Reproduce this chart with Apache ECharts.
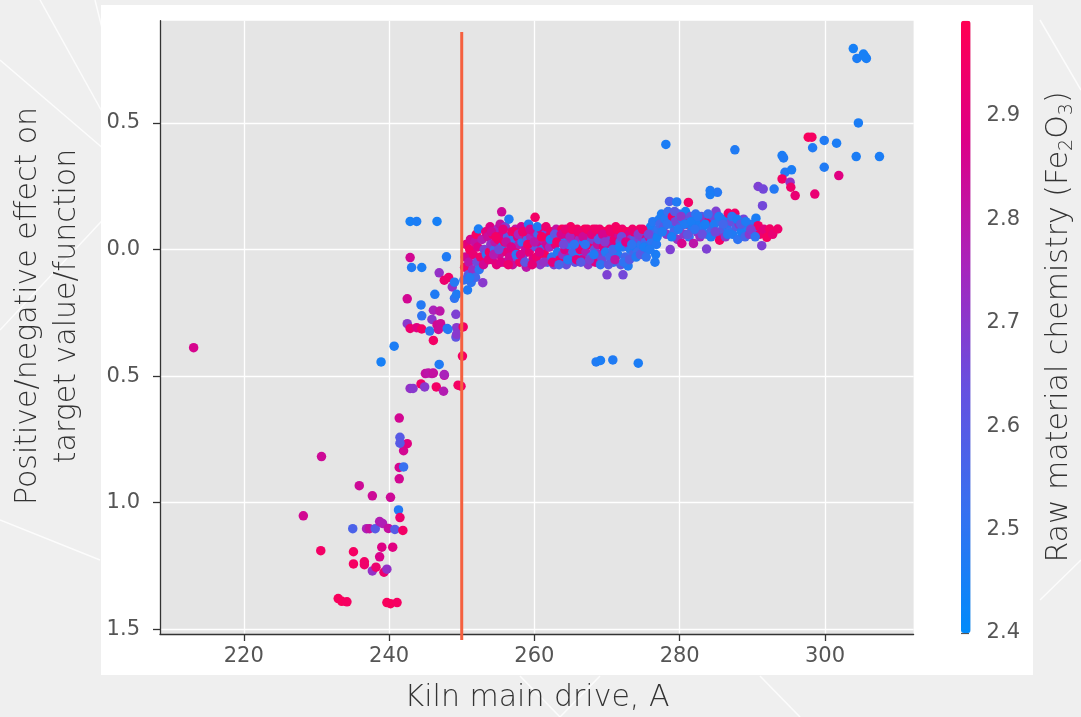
<!DOCTYPE html>
<html>
<head>
<meta charset="utf-8">
<title>Kiln main drive dependence</title>
<script src="https://cdn.jsdelivr.net/npm/echarts@6.0.0/dist/echarts.min.js"></script>
<style>
html,body{margin:0;padding:0;background:#f0f0f0;}
#main{width:1081px;height:717px;}
</style>
</head>
<body>
<div id="main"></div>
<script>
// axis ranges and ticks
var xMin = 208.47, xMax = 312.2;
var yMin = -1.519, yMax = 0.904;
var xTicks = [220, 240, 260, 280, 300];
var yTicks = [-1.5, -1.0, -0.5, 0.0, 0.5];
var feMin = 2.4, feMax = 2.992;
var feTicks = [2.4, 2.5, 2.6, 2.7, 2.8, 2.9];
// vertical threshold line (drive current 250 A)
var thresholdLine = [[250, 0.859], [250, -1.543]];

// [kiln drive A, effect, Fe2O3]
var farLeft = [[213.1,-0.388,2.86]];

var lowCluster = [
	[230.7,-0.818,2.84],[228.2,-1.052,2.85],[230.6,-1.19,2.95],[233.0,-1.379,2.97],[233.5,-1.39,2.97],
	[234.2,-1.392,2.96],[235.1,-1.194,2.96],[235.1,-1.242,2.96],[236.6,-1.234,2.95],[236.6,-1.245,2.94],
	[235.0,-1.103,2.57],[235.9,-0.933,2.84],[236.9,-1.103,2.76],[237.3,-1.103,2.82],[237.7,-0.973,2.84],
	[237.7,-1.27,2.72],[238.2,-1.255,2.93],[238.7,-1.214,2.87],[238.1,-1.103,2.6],[238.7,-1.075,2.78],
	[239.1,-1.082,2.77],[239.0,-1.176,2.88],[239.3,-1.275,2.93],[239.7,-1.263,2.72],[239.9,-1.102,2.82],
	[240.2,-0.979,2.84],[240.5,-1.176,2.89],[240.8,-1.106,2.6],[239.7,-1.395,2.97],[240.2,-1.399,2.97],
	[241.1,-1.395,2.96],[241.3,-1.029,2.48],[241.5,-1.059,2.93],[241.9,-1.11,2.95],[241.4,-0.906,2.85],
	[241.4,-0.861,2.86],[242.0,-0.859,2.52],[242.0,-0.795,2.85],[242.5,-0.767,2.89],[241.5,-0.742,2.6],
	[241.5,-0.765,2.6],[241.4,-0.666,2.85]
];

var rampPoints = [
	[242.9,-0.549,2.72],[243.3,-0.549,2.7],[244.4,-0.531,2.95],[244.9,-0.543,2.7],[246.5,-0.543,2.95],
	[247.5,-0.56,2.78],[249.5,-0.536,2.95],[245.0,-0.49,2.82],[245.9,-0.49,2.8],[247.6,-0.497,2.82],
	[238.9,-0.444,2.45],[246.9,-0.454,2.47],[242.9,0.111,2.45],[243.8,0.111,2.46],[246.6,0.111,2.45],
	[242.9,-0.032,2.85],[243.1,-0.071,2.47],[244.5,-0.071,2.46],[247.9,-0.029,2.47],[246.9,-0.092,2.72],
	[247.6,-0.121,2.93],[248.2,-0.111,2.94],[248.7,-0.148,2.72],[249.0,-0.129,2.48],[242.5,-0.195,2.85],
	[246.3,-0.177,2.47],[244.4,-0.219,2.48],[249.0,-0.193,2.5],[246.1,-0.24,2.76],[247.0,-0.243,2.8],
	[244.5,-0.262,2.5],[242.5,-0.293,2.7],[242.9,-0.312,2.93],[243.8,-0.309,2.89],[244.5,-0.314,2.95],
	[245.9,-0.276,2.7],[246.6,-0.298,2.85],[247.1,-0.293,2.84],[245.6,-0.322,2.5],[246.8,-0.316,2.84],
	[248.0,-0.312,2.5],[249.2,-0.256,2.68],[249.3,-0.309,2.7],[249.2,-0.346,2.62],[250.2,-0.306,2.95],
	[246.1,-0.359,2.95],[240.7,-0.382,2.46],[250.1,-0.421,2.96],[245.4,-0.488,2.8],[246.1,-0.488,2.82],
	[247.6,-0.494,2.76],[249.9,-0.54,2.96],[248.1,-0.316,2.48],[249.3,-0.335,2.7],[249.3,-0.177,2.47]
];

var bandA = [
	[250.3,-0.12,2.5],[250.4,-0.07,2.93],[250.5,-0.03,2.85],[250.6,0.02,2.9],[250.8,-0.16,2.47],
	[250.9,-0.1,2.6],[251.0,-0.05,2.8],[251.1,0.0,2.95],[251.2,0.04,2.86],[251.3,-0.13,2.5],
	[251.5,-0.08,2.73],[251.6,-0.02,2.92],[251.8,0.03,2.82],[251.9,-0.11,2.55],[252.0,0.06,2.96],
	[252.1,-0.05,2.65],[252.2,0.01,2.88],[252.4,-0.08,2.5],[252.3,0.081,2.46],[252.6,-0.03,2.94],
	[252.8,0.04,2.78],[253.0,-0.06,2.85],[253.1,0.0,2.68],[253.3,0.07,2.9],[253.4,-0.02,2.5],
	[252.9,-0.131,2.7],[251.1,-0.111,2.48]
];

var bandB = [
	[253.6,0.05,2.83],[253.8,-0.01,2.95],[253.9,0.09,2.88],[254.0,0.02,2.72],[254.2,-0.04,2.86],
	[254.3,0.06,2.97],[254.5,0.0,2.55],[254.6,0.03,2.8],[254.8,-0.06,2.9],[254.9,0.08,2.76],
	[255.0,0.04,2.93],[255.2,-0.02,2.84],[255.3,0.1,2.82],[255.5,0.01,2.48],[255.6,0.06,2.87],
	[255.8,-0.05,2.79],[255.9,0.03,2.96],[256.0,0.09,2.7],[256.2,-0.01,2.9],[256.3,0.05,2.6],
	[256.5,0.12,2.47],[256.6,-0.03,2.85],[256.7,0.02,2.74],[256.9,0.07,2.92],[257.0,-0.06,2.83],
	[257.1,0.04,2.52],[257.3,0.0,2.95],[257.4,0.08,2.81],[257.6,-0.03,2.66],[257.7,0.05,2.89],
	[257.9,0.02,2.78],[258.0,-0.05,2.94],[258.2,0.09,2.86],[258.3,0.03,2.5],[258.5,-0.02,2.72],
	[258.6,0.06,2.97],[258.8,0.0,2.84],[258.9,-0.07,2.8],[259.0,0.04,2.58],[259.2,0.1,2.48],
	[259.3,-0.01,2.91],[259.5,0.05,2.75],[259.6,0.02,2.68],[259.8,-0.04,2.88],[259.9,0.07,2.82],
	[260.1,0.127,2.95],[260.2,0.01,2.62],[260.3,-0.03,2.93],[260.5,0.06,2.55],[260.6,0.03,2.86],
	[260.8,-0.06,2.7],[260.9,0.08,2.9],[261.1,0.0,2.5],[261.2,0.04,2.79],[261.4,-0.02,2.96],
	[261.5,0.06,2.64],[261.7,0.02,2.84],[261.8,-0.05,2.58],[262.0,0.05,2.92],[255.5,0.149,2.84],
	[253.7,-0.04,2.9],[254.1,0.07,2.84],[254.4,-0.02,2.78],[254.7,0.05,2.95],[255.1,0.0,2.66],
	[255.4,-0.05,2.88],[255.7,0.08,2.9],[256.1,0.03,2.82],[256.4,-0.06,2.93],[256.8,0.01,2.87],
	[257.2,0.07,2.95],[257.5,-0.02,2.5],[257.8,0.06,2.76],[258.1,-0.02,2.86],[258.4,0.07,2.93],
	[258.7,-0.05,2.62],[259.1,0.02,2.95],[259.4,0.08,2.85],[259.7,-0.06,2.91],[260.0,0.03,2.8],
	[260.4,0.09,2.47],[260.7,-0.01,2.88],[261.0,0.05,2.96],[261.3,-0.05,2.72],[261.6,0.09,2.93],
	[261.9,0.01,2.85]
];

var bandC = [
	[262.1,0.01,2.75],[262.3,0.07,2.95],[262.4,-0.03,2.5],[262.6,0.04,2.86],[262.7,-0.06,2.68],
	[262.9,0.02,2.9],[263.0,0.08,2.82],[263.2,-0.01,2.47],[263.3,0.05,2.77],[263.5,-0.04,2.93],
	[263.6,0.03,2.6],[263.8,0.08,2.97],[263.9,-0.02,2.72],[264.1,0.05,2.52],[264.2,0.0,2.88],
	[264.4,-0.06,2.64],[264.5,0.06,2.94],[264.7,0.02,2.48],[264.8,-0.03,2.8],[265.0,0.09,2.96],
	[265.1,0.04,2.7],[265.3,-0.01,2.55],[265.4,0.06,2.9],[265.6,-0.05,2.62],[265.7,0.02,2.84],
	[265.9,0.08,2.95],[266.0,-0.02,2.5],[266.2,0.04,2.74],[266.3,0.0,2.92],[266.5,0.07,2.66],
	[266.6,-0.04,2.86],[266.8,0.03,2.46],[266.9,0.08,2.97],[267.1,-0.01,2.78],[267.2,0.05,2.58],
	[267.4,-0.06,2.7],[267.5,0.02,2.93],[267.7,0.07,2.85],[267.8,-0.03,2.52],[268.0,0.04,2.68],
	[268.1,0.08,2.96],[268.3,0.0,2.62],[268.4,-0.05,2.88],[268.6,0.06,2.49],[268.7,0.02,2.82],
	[268.9,-0.02,2.72],[269.0,0.08,2.94],[269.2,0.04,2.56],[269.3,-0.04,2.66],[269.5,0.01,2.9],
	[269.6,0.07,2.95],[269.8,-0.01,2.48],[270.0,-0.1,2.68],[270.0,0.05,2.8],[270.1,0.03,2.6],
	[270.3,0.08,2.97],[270.4,-0.03,2.54],[270.6,0.02,2.86],[270.7,0.06,2.7],[270.9,-0.05,2.5],
	[271.0,0.04,2.92],[271.2,0.09,2.95],[271.3,0.0,2.64],[271.5,-0.02,2.47],[271.6,0.06,2.84],
	[271.8,0.03,2.58],[271.9,-0.06,2.62],[272.1,0.08,2.93],[272.2,-0.1,2.66],[272.2,0.01,2.5],
	[272.4,0.05,2.76],[272.5,-0.03,2.55],[272.7,0.07,2.96],[272.9,-0.065,2.47],[272.9,0.02,2.68],
	[273.0,0.06,2.88],[273.2,0.0,2.48],[273.3,0.04,2.72],[273.5,0.08,2.94],[273.6,-0.02,2.56],
	[273.8,0.05,2.6],[273.9,0.01,2.46],[274.1,0.07,2.86],[274.2,-0.01,2.52],[274.4,0.04,2.66],
	[274.5,0.08,2.95],[274.7,0.02,2.5],[274.8,0.05,2.7],[275.0,-0.02,2.48],[275.2,0.06,2.9],
	[275.3,0.03,2.55],[275.5,0.07,2.47],[275.6,0.01,2.62],[275.8,0.05,2.84],[276.0,0.09,2.46],
	[276.1,0.03,2.5],[276.3,0.11,2.48],[276.4,0.06,2.58],[276.6,-0.05,2.47],[276.7,-0.02,2.46],
	[276.8,0.02,2.48],[276.9,0.05,2.45],[277.0,0.08,2.5],[277.2,0.12,2.47],[277.3,0.1,2.55],
	[262.2,0.04,2.48],[262.5,-0.05,2.9],[262.8,0.06,2.62],[263.1,0.03,2.95],[263.4,-0.06,2.56],
	[263.7,0.06,2.86],[264.0,0.02,2.66],[264.3,0.08,2.92],[264.6,-0.04,2.48],[264.9,0.05,2.76],
	[265.2,0.08,2.95],[265.5,0.02,2.5],[265.8,-0.04,2.9],[266.1,0.07,2.93],[266.4,-0.05,2.6],
	[266.7,0.05,2.84],[267.0,0.02,2.5],[267.3,0.08,2.95],[267.6,-0.04,2.68],[267.9,0.06,2.9],
	[268.2,-0.02,2.47],[268.5,0.08,2.94],[268.8,0.04,2.6],[269.1,-0.06,2.5],[269.4,0.06,2.86],
	[269.7,0.03,2.7],[270.2,-0.06,2.62],[270.5,0.07,2.93],[270.8,0.0,2.55],[271.1,-0.04,2.8],
	[271.4,0.08,2.96],[271.7,0.01,2.46],[272.0,0.05,2.66],[272.3,-0.05,2.5],[272.6,0.03,2.88],
	[273.1,-0.04,2.6],[273.4,0.02,2.5],[273.7,0.07,2.92],[274.0,-0.03,2.47],[274.3,0.06,2.7],
	[274.6,-0.02,2.6],[274.9,0.08,2.94],[275.1,0.01,2.46],[275.4,-0.03,2.5],[275.7,0.06,2.66],
	[275.9,0.0,2.47]
];

var bandD = [
	[277.5,0.14,2.46],[277.8,0.09,2.6],[278.0,0.12,2.48],[278.2,0.06,2.7],[278.4,0.15,2.52],
	[278.6,0.19,2.58],[278.7,0.0,2.68],[278.8,0.1,2.46],[279.0,0.13,2.95],[279.2,0.07,2.55],
	[279.4,0.11,2.66],[279.6,0.188,2.47],[279.7,0.04,2.72],[279.9,0.14,2.5],[280.1,0.09,2.62],
	[280.3,0.024,2.86],[280.4,0.12,2.48],[280.6,0.06,2.7],[280.8,0.15,2.45],[281.0,0.1,2.9],
	[281.2,0.186,2.95],[281.3,0.05,2.52],[281.5,0.13,2.64],[281.7,0.08,2.47],[281.9,0.024,2.8],
	[282.0,0.11,2.56],[282.2,0.14,2.5],[282.4,0.07,2.68],[282.6,0.1,2.46],[282.8,0.05,2.74],
	[283.0,0.13,2.6],[283.2,0.09,2.48],[283.4,0.12,2.7],[283.7,0.002,2.68],[283.8,0.06,2.5],
	[284.0,0.11,2.93],[284.4,0.08,2.55],[284.6,0.13,2.66],[284.8,0.1,2.47],[285.0,0.151,2.68],
	[285.3,0.06,2.72],[285.5,0.037,2.95],[285.7,0.11,2.5],[285.9,0.08,2.6],[286.1,0.12,2.46],
	[286.3,0.05,2.7],[286.5,0.09,2.48],[286.7,0.143,2.94],[286.9,0.07,2.52],[287.1,0.11,2.64],
	[287.3,0.06,2.47],[287.6,0.143,2.95],[287.8,0.09,2.58],[288.0,0.04,2.5],[288.2,0.1,2.72],
	[288.5,0.07,2.46],[288.8,0.12,2.66],[289.0,0.05,2.55],[289.3,0.09,2.48],[289.6,0.06,2.7],
	[289.9,0.1,2.5],[290.2,0.07,2.62],[290.5,0.124,2.46],[290.8,0.094,2.95],[291.0,0.06,2.93],
	[291.3,0.015,2.68],[291.6,0.08,2.9],[292.0,0.048,2.96],[292.4,0.081,2.95],[292.8,0.06,2.92],
	[293.5,0.081,2.94],
	[277.6,0.07,2.47],[278.3,0.1,2.5],[278.9,0.05,2.46],[279.3,0.15,2.6],[279.8,0.08,2.48],
	[280.2,0.13,2.7],[280.7,0.1,2.47],[281.1,0.06,2.62],[281.6,0.11,2.46],[282.1,0.08,2.5],
	[282.5,0.13,2.48],[283.1,0.06,2.64],[283.5,0.1,2.46],[283.9,0.14,2.52],[284.3,0.05,2.47],
	[284.9,0.07,2.66],[285.4,0.13,2.47],[286.0,0.1,2.55],[286.6,0.06,2.48],[287.2,0.13,2.5],
	[287.9,0.12,2.46],[288.4,0.1,2.6],[289.1,0.11,2.47],[289.8,0.08,2.68],[290.4,0.05,2.5]
];

var upperRight = [
	[278.1,0.415,2.46],[287.6,0.394,2.47],[294.1,0.371,2.46],[294.3,0.362,2.47],[294.5,0.305,2.48],
	[295.4,0.315,2.46],[294.1,0.279,2.95],[295.2,0.266,2.72],[295.3,0.246,2.94],[295.9,0.213,2.92],
	[290.8,0.249,2.68],[291.5,0.239,2.66],[293.0,0.239,2.48],[291.4,0.173,2.66],[284.2,0.233,2.47],
	[285.2,0.226,2.48],[284.2,0.217,2.46],[303.9,0.794,2.45],[304.4,0.755,2.46],[305.3,0.772,2.45],
	[305.7,0.755,2.46],[305.5,0.762,2.45],[304.6,0.5,2.46],[297.7,0.444,2.97],[298.2,0.444,2.96],
	[299.9,0.431,2.47],[301.6,0.42,2.46],[298.3,0.402,2.47],[304.3,0.367,2.46],[307.5,0.367,2.46],
	[299.9,0.325,2.47],[301.9,0.292,2.89],[298.6,0.219,2.92]
];

var midOutliers = [[268.5,-0.444,2.47],[269.1,-0.438,2.46],[270.8,-0.436,2.47],[274.3,-0.449,2.46]];

var feColors = ['#008bfb','#3670f0','#6650e0','#a824bc','#dc0088','#ff0052'];

var points = [].concat(lowCluster, farLeft, rampPoints, bandA, bandB, bandC, bandD, upperRight, midOutliers);

var tickFont = 'DejaVu Sans';

// faint slide-background strokes
function bgLine(x1, y1, x2, y2){
	return {type:'line', z:-20, shape:{x1:x1, y1:y1, x2:x2, y2:y2}, style:{stroke:'#ffffff', lineWidth:1.5, opacity:0.8}};
}

var chart = echarts.init(document.getElementById('main'));
var option = {
	backgroundColor: '#efefef',
	animation: false,
	graphic: {
		elements: [
			bgLine(0, 60, 140, 180), bgLine(40, 0, 140, 180), bgLine(140, 180, 0, 330), bgLine(140, 180, 95, 0),
			bgLine(0, 520, 100, 560), bgLine(560, 717, 600, 676), bgLine(560, 717, 520, 676), bgLine(800, 717, 760, 676),
			bgLine(1040, 20, 1081, 90), bgLine(1040, 600, 1081, 560),
			{type:'rect', z:-10, shape:{x:101, y:5, width:932, height:670}, style:{fill:'#ffffff'}},
			{type:'text', x:48, y:306, rotation:Math.PI/2, z:10,
				style:{text:'Positive/negative effect on\ntarget value/function', fill:'#333',
					fontFamily:'DejaVu Sans', fontSize:30, fontWeight:200, lineHeight:39, align:'center', verticalAlign:'middle'}},
			{type:'text', x:537, y:698, z:10,
				style:{text:'Kiln main drive, A', fill:'#333',
					fontFamily:'DejaVu Sans', fontSize:30, fontWeight:200, align:'center', verticalAlign:'middle'}},
			{type:'text', x:1059, y:327, rotation:Math.PI/2, z:10,
				style:{text:'{a|Raw material chemistry (Fe}{s|2}{a|O}{s|3}{a|)}', fill:'#333', align:'center', verticalAlign:'middle',
					rich:{
						a:{fontFamily:'DejaVu Sans', fontSize:30, fontWeight:200, lineHeight:36, fill:'#333'},
						s:{fontFamily:'DejaVu Sans', fontSize:19, fontWeight:200, lineHeight:14, verticalAlign:'bottom', fill:'#333'}
					}}}
		]
	},
	grid: [
		{left:160, right:167.4, top:20.7, bottom:83, show:true, backgroundColor:'#e5e5e5', borderWidth:0},
		{left:961, width:9.6, top:20.7, height:612.3, show:false}
	],
	xAxis: [
		{
			type:'value', gridIndex:0, min:xMin, max:xMax,
			axisLine:{show:true, onZero:false, lineStyle:{color:'#333', width:1.3}},
			axisTick:{show:true, length:7, customValues:xTicks, lineStyle:{color:'#333', width:1.3}},
			axisLabel:{customValues:xTicks, color:'#555', fontSize:21, fontFamily:tickFont, margin:12},
			splitLine:{show:true, lineStyle:{color:'#ffffff', width:1.3}}
		},
		{type:'value', gridIndex:1, show:false}
	],
	yAxis: [
		{
			type:'value', gridIndex:0, min:yMin, max:yMax,
			axisLine:{show:true, onZero:false, lineStyle:{color:'#333', width:1.3}},
			axisTick:{show:true, length:7, customValues:yTicks, lineStyle:{color:'#333', width:1.3}},
			axisLabel:{customValues:yTicks, color:'#555', fontSize:21, fontFamily:tickFont, margin:20,
				formatter:function(v){ return Math.abs(v).toFixed(1); }},
			splitLine:{show:true, lineStyle:{color:'#ffffff', width:1.3}}
		},
		{
			type:'value', gridIndex:1, position:'right', min:feMin, max:feMax,
			axisLine:{show:false},
			axisTick:{show:true, length:8, customValues:feTicks, lineStyle:{color:'#555', width:1.2}},
			axisLabel:{customValues:feTicks, color:'#555', fontSize:21, fontFamily:tickFont, margin:16,
				formatter:function(v){ return v.toFixed(1); }},
			splitLine:{show:false}
		}
	],
	visualMap: {
		type:'continuous', min:feMin, max:feMax, dimension:2, seriesIndex:0,
		left:961, top:20.7, itemWidth:9.6, itemHeight:612.3, padding:0,
		calculable:false, hoverLink:false, inRange:{color:feColors}
	},
	series: [
		{
			type:'scatter', xAxisIndex:0, yAxisIndex:0, data:points, symbolSize:9.5,
			itemStyle:{opacity:1}
		},
		{
			type:'line', xAxisIndex:0, yAxisIndex:0, data:thresholdLine, clip:false,
			showSymbol:false, symbol:'none', silent:true, z:5,
			lineStyle:{color:'#f5603f', width:3}
		}
	]
};
chart.setOption(option);
</script>
</body>
</html>
